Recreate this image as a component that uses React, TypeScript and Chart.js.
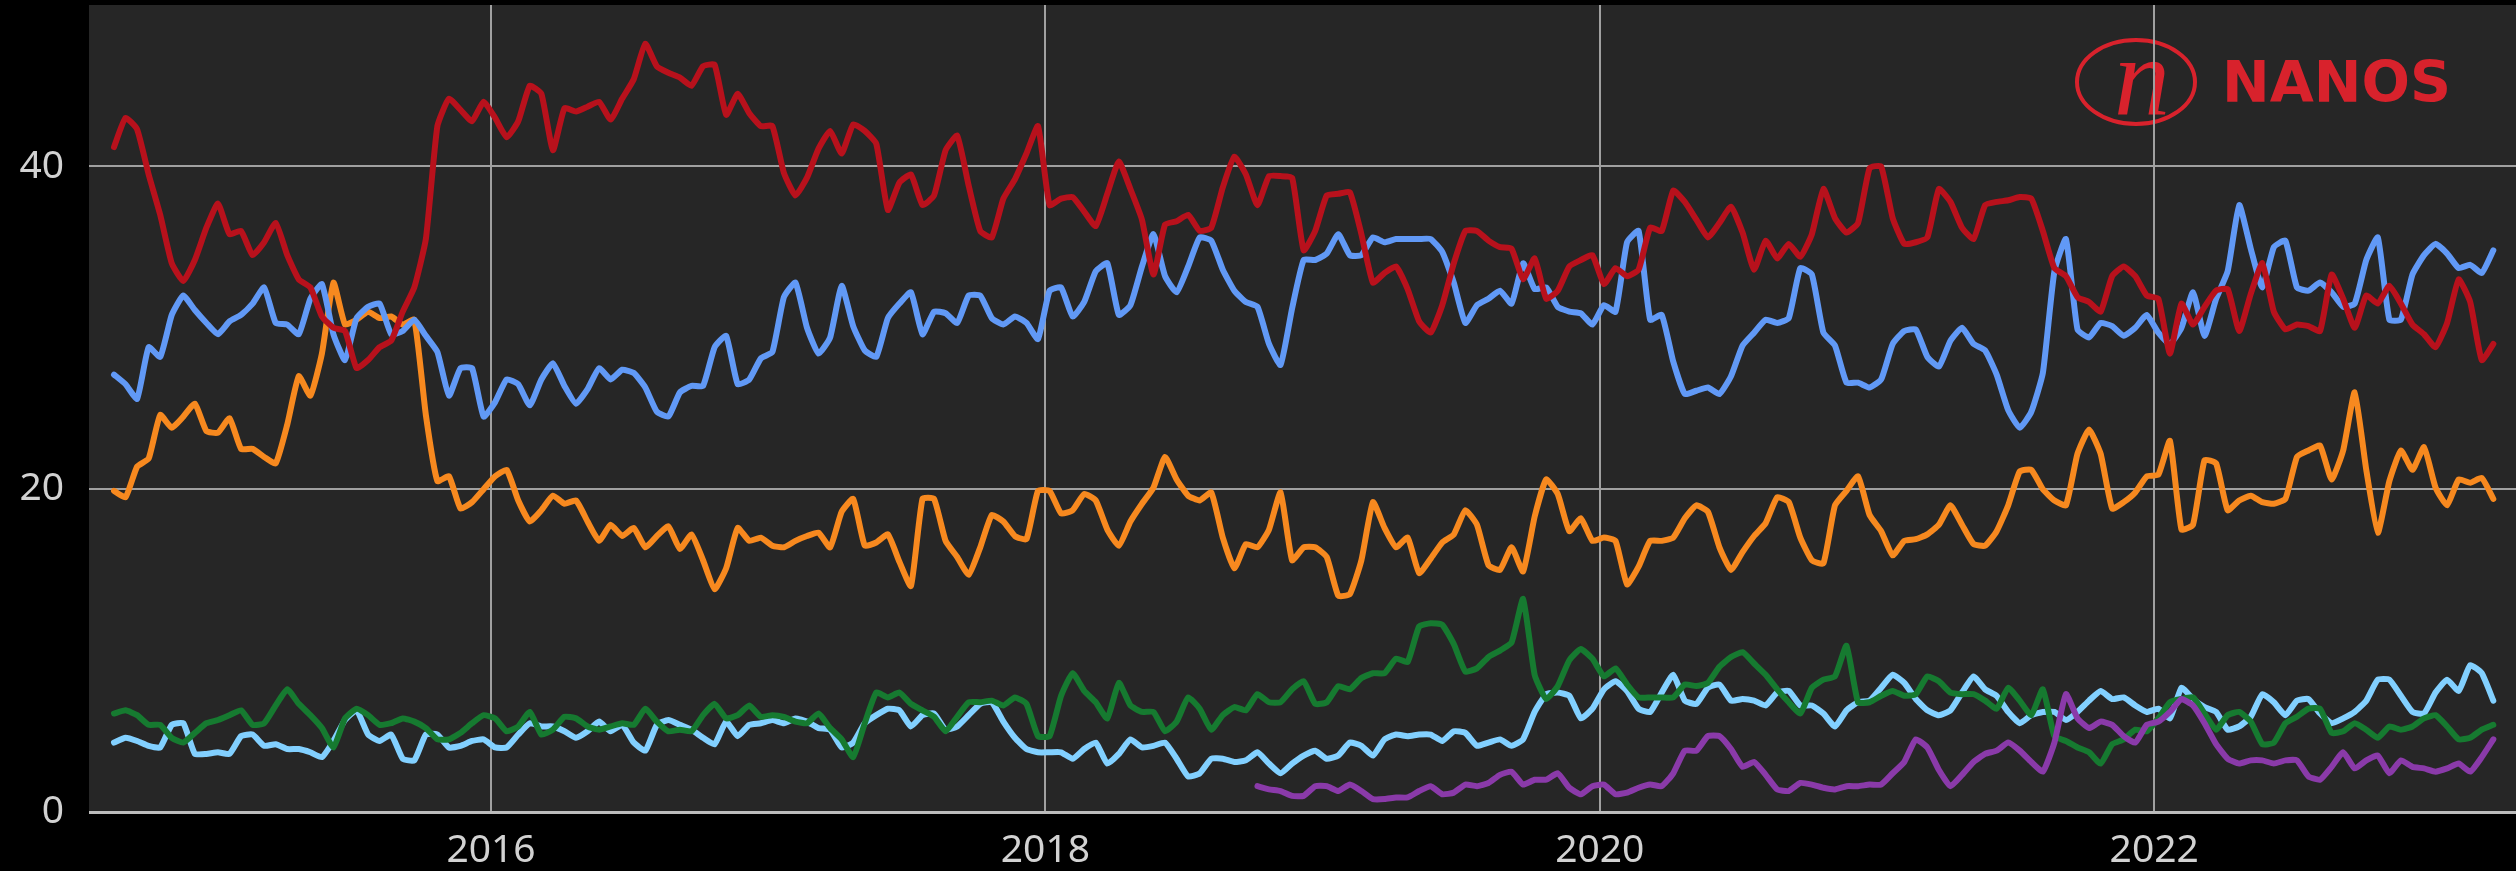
import React, { useEffect, useRef } from "react";
import { Chart, registerables } from "chart.js";

Chart.register(...registerables);

// Half-monthly samples starting mid-August 2014
const START_YEAR = 2014.64;
const STEP = 1 / 24;
const X_MIN = 2014.5498;
const X_MAX = 2023.3052;
const X_TICKS = [2016, 2018, 2020, 2022];
const Y_TICKS = [0, 20, 40];
const PPC_START_INDEX = 99;

const LIB = [
  41.2, 43.0, 42.3, 39.5, 37.0, 34.0, 32.9, 34.2, 36.2, 37.7, 35.8, 36.0, 34.5, 35.3, 36.5, 34.5, 33.0, 32.5, 30.7, 30.0, 29.8, 27.5, 28.0, 28.8, 29.2, 31.0, 32.5, 35.5, 42.5, 44.2, 43.5, 42.8, 44.0, 43.0,
  41.8, 42.8, 45.0, 44.5, 41.0, 43.6, 43.4, 43.7, 44.0, 42.9, 44.2, 45.4, 47.6, 46.2, 45.8, 45.5, 45.0, 46.2, 46.3, 43.2, 44.5, 43.3, 42.5, 42.5, 39.6, 38.2, 39.3, 41.1, 42.2, 40.8, 42.6, 42.2, 41.4, 37.3, 39.0, 39.5,
  37.6, 38.2, 41.0, 41.9, 38.8, 36.0, 35.6, 38.0, 39.2, 40.8, 42.5, 37.6, 38.0, 38.1, 37.2, 36.3, 38.3, 40.3, 38.6, 36.7, 33.3, 36.4, 36.6, 37.0, 36.0, 36.2, 38.7, 40.6, 39.5, 37.6, 39.4, 39.4, 39.3, 34.8, 36.0, 38.2,
  38.3, 38.4, 35.8, 32.8, 33.4, 33.8, 32.4, 30.4, 29.7, 31.4, 34.0, 36.0, 36.0, 35.4, 35.0, 34.9, 33.0, 34.3, 31.8, 32.3, 33.8, 34.2, 34.5, 32.7, 33.7, 33.2, 33.6, 36.2, 36.0, 38.5, 37.8, 36.7, 35.6, 36.5, 37.5,
  35.9, 33.6, 35.4, 34.3, 35.2, 34.4, 35.8, 38.6, 36.8, 35.9, 36.5, 39.9, 40.0, 36.8, 35.2, 35.3, 35.6, 38.6, 37.8, 36.2, 35.5, 37.6, 37.8, 37.9, 38.1, 38.0, 36.0, 33.7, 33.2, 31.9, 31.6, 31.0, 33.2, 33.8, 33.2, 32.0,
  31.8, 28.4, 31.5, 30.2, 31.3, 32.3, 32.4, 29.8, 32.1, 34.0, 31.0, 29.9, 30.2, 30.1, 29.8, 33.3, 31.8, 30.0, 32.0, 31.5, 32.6, 31.5, 30.2, 29.6, 28.8, 30.3, 33.0, 31.6, 28.0, 29.0,
];

const CPC = [
  27.1, 26.5, 25.6, 28.8, 28.2, 30.8, 32.0, 31.1, 30.3, 29.6, 30.4, 30.8, 31.5, 32.5, 30.3, 30.2, 29.6, 31.8, 32.7, 29.6, 28.0, 30.6, 31.3, 31.5, 29.6, 29.8, 30.5, 29.5, 28.5, 25.8, 27.5, 27.5, 24.5, 25.4,
  26.8, 26.5, 25.2, 26.8, 27.8, 26.4, 25.3, 26.2, 27.5, 26.8, 27.4, 27.2, 26.3, 24.8, 24.5, 26.0, 26.4, 26.4, 28.8, 29.5, 26.5, 26.8, 28.1, 28.5, 31.9, 32.8, 30.0, 28.4, 29.4, 32.6, 30.1, 28.6, 28.2, 30.6, 31.5, 32.2,
  29.6, 31.0, 30.9, 30.3, 32.0, 32.0, 30.6, 30.2, 30.7, 30.3, 29.3, 32.3, 32.5, 30.7, 31.6, 33.5, 34.0, 30.8, 31.4, 33.8, 35.8, 33.2, 32.2, 33.8, 35.6, 35.4, 33.6, 32.3, 31.6, 31.3, 29.0, 27.7, 31.2, 34.2, 34.2, 34.6,
  35.8, 34.5, 34.5, 35.6, 35.3, 35.5, 35.5, 35.5, 35.5, 34.7, 32.8, 30.3, 31.4, 31.8, 32.3, 31.5, 34.0, 32.4, 32.5, 31.3, 31.0, 30.9, 30.2, 31.4, 31.0, 35.3, 36.0, 30.5, 30.8, 27.9, 25.9, 26.1, 26.3, 25.9, 27.0,
  28.9, 29.7, 30.5, 30.3, 30.6, 33.7, 33.3, 29.7, 28.9, 26.6, 26.6, 26.3, 26.8, 29.0, 29.8, 29.9, 28.2, 27.6, 29.2, 30.0, 29.0, 28.6, 27.1, 24.9, 23.8, 24.8, 27.2, 33.5, 35.5, 29.9, 29.4, 30.3, 30.1, 29.5, 30.0, 30.8,
  29.7, 29.0, 30.0, 32.2, 29.5, 31.8, 33.5, 37.6, 34.9, 32.5, 35.0, 35.4, 32.5, 32.3, 32.8, 32.2, 31.3, 31.5, 34.2, 35.6, 30.5, 30.5, 33.3, 34.5, 35.2, 34.6, 33.7, 33.9, 33.4, 34.8,
];

const NDP = [
  19.9, 19.5, 21.4, 21.9, 24.6, 23.8, 24.5, 25.3, 23.6, 23.5, 24.4, 22.5, 22.5, 22.0, 21.6, 24.0, 27.0, 25.8, 28.4, 32.8, 30.2, 30.5, 31.0, 30.6, 30.7, 30.2, 30.5, 24.6, 20.5, 20.8, 18.8, 19.2, 20.0, 20.8,
  21.2, 19.3, 18.0, 18.7, 19.6, 19.1, 19.3, 18.0, 16.8, 17.8, 17.1, 17.6, 16.4, 17.1, 17.7, 16.3, 17.2, 15.6, 13.8, 15.1, 17.6, 16.8, 17.0, 16.5, 16.4, 16.8, 17.1, 17.3, 16.4, 18.6, 19.4, 16.5, 16.7, 17.2, 15.5, 14.0,
  19.4, 19.4, 16.8, 15.8, 14.7, 16.4, 18.4, 18.0, 17.1, 16.9, 19.9, 19.9, 18.5, 18.7, 19.7, 19.3, 17.5, 16.5, 18.0, 19.1, 20.1, 22.0, 20.6, 19.6, 19.3, 19.8, 17.0, 15.1, 16.6, 16.4, 17.5, 19.8, 15.6, 16.4, 16.4, 15.8,
  13.4, 13.5, 15.6, 19.2, 17.6, 16.4, 17.0, 14.8, 15.7, 16.7, 17.2, 18.7, 17.8, 15.3, 15.0, 16.4, 14.9, 18.3, 20.6, 19.7, 17.4, 18.2, 16.8, 17.0, 16.8, 14.1, 15.2, 16.8, 16.8, 17.0, 18.2, 19.0, 18.6, 16.4, 15.0,
  16.1, 17.1, 17.9, 19.5, 19.2, 17.0, 15.6, 15.4, 19.0, 19.9, 20.8, 18.4, 17.4, 15.9, 16.8, 16.9, 17.2, 17.8, 19.0, 17.8, 16.6, 16.5, 17.4, 19.0, 21.1, 21.2, 20.0, 19.3, 19.0, 22.2, 23.7, 22.2, 18.8, 19.2, 19.8, 20.8,
  20.9, 23.0, 17.5, 17.8, 21.8, 21.6, 18.7, 19.3, 19.6, 19.2, 19.1, 19.4, 22.0, 22.4, 22.7, 20.6, 22.4, 26.0, 21.2, 17.3, 20.5, 22.4, 21.2, 22.6, 20.1, 19.0, 20.6, 20.4, 20.7, 19.4,
];

const GRN = [
  6.1, 6.3, 6.0, 5.4, 5.4, 4.6, 4.3, 4.9, 5.5, 5.7, 6.0, 6.3, 5.4, 5.5, 6.6, 7.6, 6.7, 6.0, 5.2, 4.0, 5.8, 6.4, 6.0, 5.4, 5.5, 5.8, 5.6, 5.2, 4.5, 4.5, 4.9, 5.5, 6.0, 5.8,
  5.0, 5.3, 6.2, 4.8, 5.1, 5.9, 5.8, 5.3, 5.1, 5.3, 5.5, 5.4, 6.4, 5.6, 5.0, 5.1, 5.0, 6.0, 6.7, 5.8, 6.0, 6.6, 5.9, 6.0, 5.9, 5.6, 5.5, 6.1, 5.2, 4.5, 3.4, 5.5, 7.4, 7.1, 7.4, 6.7,
  6.3, 5.9, 5.0, 5.9, 6.8, 6.8, 6.9, 6.6, 7.1, 6.7, 4.7, 4.7, 7.2, 8.6, 7.5, 6.8, 5.8, 8.0, 6.6, 6.2, 6.2, 5.0, 5.6, 7.1, 6.4, 5.1, 6.0, 6.5, 6.3, 7.3, 6.8, 6.8, 7.6, 8.1, 6.7, 6.8,
  7.8, 7.6, 8.3, 8.6, 8.6, 9.5, 9.3, 11.5, 11.7, 11.6, 10.4, 8.7, 8.9, 9.6, 10.0, 10.5, 13.2, 8.5, 7.0, 7.8, 9.4, 10.1, 9.5, 8.4, 8.9, 7.9, 7.1, 7.1, 7.1, 7.1, 7.9, 7.8, 8.0, 9.0, 9.6,
  9.9, 9.2, 8.5, 7.6, 6.8, 6.1, 7.7, 8.2, 8.4, 10.3, 6.8, 6.8, 7.2, 7.5, 7.2, 7.3, 8.4, 8.1, 7.4, 7.3, 7.3, 6.9, 6.4, 7.7, 6.9, 6.0, 7.6, 4.7, 4.4, 4.0, 3.7, 3.0, 4.2, 4.5, 5.1, 5.0,
  5.8, 6.8, 7.0, 7.1, 6.1, 5.1, 6.0, 6.2, 5.6, 4.2, 4.3, 5.5, 5.9, 6.4, 6.4, 4.9, 5.0, 5.5, 5.1, 4.6, 5.3, 5.1, 5.3, 5.8, 6.0, 5.3, 4.5, 4.6, 5.1, 5.4,
];

const BQ = [
  4.3, 4.6, 4.4, 4.1, 4.0, 5.4, 5.5, 3.6, 3.6, 3.7, 3.6, 4.7, 4.8, 4.1, 4.2, 3.9, 3.9, 3.7, 3.4, 4.4, 5.7, 6.3, 4.8, 4.4, 4.8, 3.3, 3.2, 4.8, 4.8, 4.0, 4.1, 4.4, 4.5, 4.0,
  4.0, 4.8, 5.5, 5.3, 5.3, 5.0, 4.6, 5.0, 5.6, 5.0, 5.4, 4.3, 3.8, 5.4, 5.7, 5.4, 5.1, 4.6, 4.2, 5.6, 4.7, 5.4, 5.5, 5.7, 5.5, 5.8, 5.6, 5.2, 5.1, 4.0, 4.3, 5.5, 6.0, 6.4, 6.3, 5.3,
  6.0, 6.1, 5.1, 5.3, 6.0, 6.7, 6.8, 5.6, 4.6, 3.9, 3.7, 3.7, 3.7, 3.3, 3.9, 4.3, 3.0, 3.6, 4.5, 4.0, 4.1, 4.3, 3.3, 2.2, 2.4, 3.3, 3.3, 3.1, 3.2, 3.7, 3.0, 2.4, 3.0, 3.5, 3.8, 3.3,
  3.5, 4.3, 4.1, 3.5, 4.5, 4.8, 4.7, 4.8, 4.8, 4.4, 5.0, 4.9, 4.1, 4.3, 4.5, 4.1, 4.5, 6.2, 7.3, 7.4, 7.2, 5.8, 6.4, 7.6, 8.1, 7.5, 6.4, 6.2, 7.4, 8.5, 6.9, 6.7, 7.7, 7.9, 6.9,
  7.0, 6.9, 6.6, 7.4, 7.5, 6.6, 6.6, 6.1, 5.3, 6.3, 6.8, 6.9, 7.7, 8.5, 8.0, 7.0, 6.3, 6.0, 6.3, 7.4, 8.4, 7.6, 7.2, 6.2, 5.5, 6.0, 6.2, 6.2, 5.7, 6.2, 6.9, 7.5, 7.0, 7.1, 6.6, 6.2,
  6.4, 5.8, 7.7, 7.0, 6.5, 6.2, 5.1, 5.3, 5.9, 7.3, 6.8, 6.0, 6.9, 7.0, 6.1, 5.5, 5.8, 6.2, 6.9, 8.2, 8.2, 7.2, 6.2, 6.1, 7.4, 8.2, 7.5, 9.1, 8.6, 6.9,
];

const PPC = [
  1.6, 1.4, 1.3, 1.0, 1.0, 1.6, 1.6,
  1.3, 1.7, 1.3, 0.8, 0.8, 0.9, 0.9, 1.3, 1.6, 1.1, 1.2, 1.7, 1.6, 1.8, 2.3, 2.5, 1.7, 2.0, 2.0, 2.4, 1.5, 1.1, 1.6, 1.7, 1.1, 1.2, 1.5, 1.7, 1.6, 2.4, 3.8, 3.8, 4.7, 4.7, 3.9,
  2.8, 3.1, 2.3, 1.4, 1.3, 1.8, 1.7, 1.5, 1.4, 1.6, 1.6, 1.7, 1.7, 2.4, 3.1, 4.5, 4.0, 2.6, 1.6, 2.3, 3.1, 3.6, 3.8, 4.3, 3.8, 3.1, 2.5, 4.3, 7.3, 5.8, 5.2, 5.6, 5.4, 4.7, 4.3, 5.4,
  5.6, 6.2, 7.0, 6.6, 5.5, 4.2, 3.3, 3.0, 3.2, 3.2, 3.0, 3.2, 3.2, 2.2, 2.0, 2.8, 3.7, 2.7, 3.2, 3.5, 2.4, 3.2, 2.8, 2.7, 2.5, 2.7, 3.0, 2.5, 3.4, 4.5,
];

const toPoints = (vals: number[], offset = 0) =>
  vals.map((v, i) => ({ x: START_YEAR + (i + offset) * STEP, y: v }));

const backgroundPlugin = {
  id: "nanosBackground",
  beforeDraw(chart: any) {
    const { ctx, chartArea, width, height } = chart;
    ctx.save();
    ctx.fillStyle = "#000000";
    ctx.fillRect(0, 0, width, height);
    ctx.fillStyle = "#262626";
    ctx.fillRect(chartArea.left, chartArea.top, chartArea.right - chartArea.left, chartArea.bottom - chartArea.top);
    // Logo
    const cx = width - 380;
    const cy = 82;
    ctx.strokeStyle = "#d8222c";
    ctx.lineWidth = 4;
    ctx.beginPath();
    ctx.ellipse(cx, cy, 59, 42, 0, 0, Math.PI * 2);
    ctx.stroke();
    ctx.fillStyle = "#d8222c";
    ctx.font = 'italic 112px "Liberation Serif", serif';
    ctx.textAlign = "center";
    ctx.textBaseline = "alphabetic";
    ctx.fillText("n", cx + 6, cy + 33);
    ctx.font = 'bold 57px "DejaVu Sans", sans-serif';
    ctx.textAlign = "left";
    ctx.fillText("NANOS", width - 294, 102);
    ctx.restore();
  },
};

export default function App() {
  const ref = useRef<HTMLCanvasElement>(null);

  useEffect(() => {
    const canvas = ref.current;
    if (!canvas) return;
    const line = (label: string, color: string, data: any[]) => ({
      label,
      data,
      borderColor: color,
      backgroundColor: color,
      borderWidth: 6,
      pointRadius: 0,
      tension: 0.15,
      fill: false,
      borderJoinStyle: "round" as const,
      borderCapStyle: "round" as const,
    });
    const tickFont = { family: '"Noto Sans", sans-serif', size: 39 };
    const chart = new Chart(canvas, {
      type: "line",
      data: {
        datasets: [
          line("Liberal", "#b8111c", toPoints(LIB)),
          line("Conservative", "#6199f6", toPoints(CPC)),
          line("NDP", "#f7891f", toPoints(NDP)),
          line("People's Party", "#8a3aa9", toPoints(PPC, PPC_START_INDEX)),
          line("Green", "#167a30", toPoints(GRN)),
          line("Bloc Québécois", "#82d0ff", toPoints(BQ)),
        ],
      },
      options: {
        responsive: true,
        maintainAspectRatio: false,
        animation: false,
        devicePixelRatio: 1,
        layout: { padding: { top: 5, left: 0, right: 0, bottom: 0 } },
        plugins: { legend: { display: false }, tooltip: { enabled: false } },
        scales: {
          x: {
            type: "linear",
            min: X_MIN,
            max: X_MAX,
            afterBuildTicks: (s: any) => {
              s.ticks = X_TICKS.map((v) => ({ value: v }));
            },
            afterFit: (s: any) => {
              s.height = 59;
              s.paddingLeft = 0;
              s.paddingRight = 0;
            },
            grid: { color: "#a0a0a0", lineWidth: 2, drawTicks: false },
            border: { display: false },
            ticks: {
              color: "#d2d2d2",
              font: tickFont,
              padding: 15,
              maxRotation: 0,
              autoSkip: false,
              callback: (v: any) => String(v),
            },
          },
          y: {
            min: 0,
            max: 50,
            afterBuildTicks: (s: any) => {
              s.ticks = Y_TICKS.map((v) => ({ value: v }));
            },
            afterFit: (s: any) => {
              s.width = 89;
              s.paddingTop = 0;
              s.paddingBottom = 0;
            },
            grid: {
              color: (c: any) => (c.tick && c.tick.value === 0 ? "#bcbcbc" : "#a0a0a0"),
              lineWidth: (c: any) => (c.tick && c.tick.value === 0 ? 3 : 2),
              drawTicks: false,
            },
            border: { display: false },
            ticks: {
              color: "#d2d2d2",
              font: tickFont,
              padding: 25,
              callback: (v: any) => String(v),
            },
          },
        },
      },
      plugins: [backgroundPlugin],
    });
    return () => chart.destroy();
  }, []);

  return (
    <div style={{ position: "fixed", left: 0, top: 0, width: 2516, height: 871, background: "#000" }}>
      <canvas ref={ref} />
    </div>
  );
}
